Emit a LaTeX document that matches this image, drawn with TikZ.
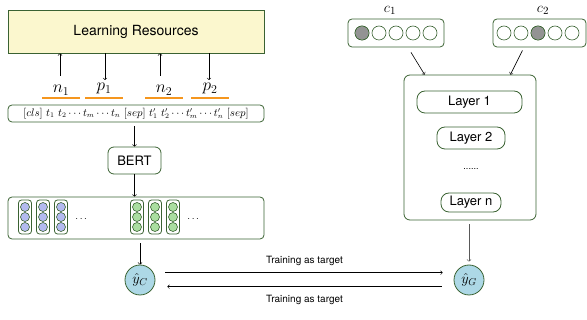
\documentclass[tikz,border=0pt]{standalone}
\usepackage{fontspec}
\setsansfont{TeX Gyre Heros}
\usepackage{amsmath}
\usetikzlibrary{arrows, positioning}
\definecolor{edgegreen}{RGB}{58,98,50}
\definecolor{resyellow}{RGB}{251,247,206}
\definecolor{dotblue}{RGB}{180,186,240}
\definecolor{dotgreen}{RGB}{170,222,160}
\definecolor{outblue}{RGB}{173,216,230}
\definecolor{underorange}{RGB}{245,150,30}
\tikzset{
	gbox/.style={draw=edgegreen, line width=0.8pt, rounded corners=4pt},
	layerbox/.style={draw=edgegreen, line width=0.8pt, rounded corners=8pt, font=\sffamily\fontsize{13}{15}\selectfont, inner sep=0pt},
	tokenlab/.style={anchor=base, minimum width=37pt, inner sep=0pt, font=\fontsize{17.5}{20}\selectfont},
	uline/.style={underorange, line width=1.6pt},
	emb/.style={circle, draw=edgegreen, line width=0.6pt, minimum size=9pt, inner sep=0pt},
	onehot/.style={circle, draw=edgegreen, line width=0.6pt, minimum size=14pt, inner sep=0pt},
	outnode/.style={circle, draw=edgegreen, line width=0.8pt, fill=outblue, minimum size=30pt, inner sep=0pt, font=\fontsize{14}{16}\selectfont},
	arr/.style={->, line width=0.6pt},
}
\begin{document}
\begin{tikzpicture}[x=1pt, y=-1pt]
	\useasboundingbox (0,0) rectangle (587,320);
	% left branch
	\node[
	draw=edgegreen, line width=0.8pt, fill=resyellow,
	minimum width=256pt, minimum height=43pt,
	font=\sffamily\fontsize{14}{16}\selectfont,
	] (res) at (136,31.5) {Learning Resources};
	\node[tokenlab] (n1) at (61,92.5) {$n_1$};
	\node[tokenlab] (p1) at (104,91) {$p_1$};
	\node[tokenlab] (n2) at (164,92.5) {$n_2$};
	\node[tokenlab] (p2) at (210,91) {$p_2$};
	\foreach \lab in {n1,p1,n2,p2}
		\draw[uline] (\lab.west |- 0,98) -- (\lab.east |- 0,98);
	\draw[arr] (60,76) -- (60,0 |- res.south);
	\draw[arr] (105,0 |- res.south) -- (105,80);
	\draw[arr] (160,76) -- (160,0 |- res.south);
	\draw[arr] (209,0 |- res.south) -- (209,80);
	\node[
	gbox, minimum width=256pt, minimum height=17pt, inner sep=0pt,
	font=\fontsize{10.5}{12}\selectfont,
	] (tokens) at (136,113.5)
	{$[cls]\ t_1\ t_2\cdots t_m\cdots t_n\ [sep]\ t'_1\ t'_2\cdots t'_m\cdots t'_n\ [sep]$};
	\node[
	gbox, rounded corners=6pt, minimum width=53pt, minimum height=27pt,
	font=\sffamily\fontsize{13}{15}\selectfont,
	] (bert) at (134.5,160.5) {BERT};
	\draw[arr] ([yshift=-4pt]tokens.south -| bert.center) -- (bert.north);
	\node[gbox, minimum width=256pt, minimum height=42pt] (embs) at (136,218) {};
	\draw[arr] (bert.south) -- (bert.center |- embs.north);
	\foreach \x/\col [count=\i] in {25/dotblue,43/dotblue,61/dotblue,137/dotgreen,155/dotgreen,173/dotgreen}{
		\node[draw=edgegreen, line width=0.8pt, rounded corners=3pt, minimum width=13pt, minimum height=34pt] (col\i) at (\x,217) {};
		\foreach \y [count=\j] in {207,217,227}
			\node[emb, fill=\col] (e\i\j) at (\x,\y) {};
	}
	\node (dotsa) at (82,219) {$\cdots$};
	\node (dotsb) at (194,219) {$\cdots$};
	\node[outnode] (yc) at (140,280) {$\hat{y}_C$};
	\draw[arr] ([yshift=-4pt]embs.south -| yc.center) -- (yc.north);
	% right branch
	\node[gbox, minimum width=96pt, minimum height=28pt] (c1box) at (396,33) {};
	\node[anchor=base, inner sep=0pt, font=\fontsize{15}{17}\selectfont] (c1) at (390,12.5) {$c_1$};
	\foreach \i in {1,...,5}
		\node[onehot] (a\i) at (345+17*\i,33) {};
	\fill[gray!85] (a1) circle (6.5pt);
	\draw[edgegreen, line width=0.6pt] (a1) circle (7pt);
	\node[gbox, minimum width=93pt, minimum height=28pt] (c2box) at (539.5,33) {};
	\node[anchor=base, inner sep=0pt, font=\fontsize{15}{17}\selectfont] (c2) at (543,12.5) {$c_2$};
	\foreach \i in {1,...,5}
		\node[onehot] (b\i) at (487+17*\i,33) {};
	\fill[gray!85] (b3) circle (6.5pt);
	\draw[edgegreen, line width=0.6pt] (b3) circle (7pt);
	\node[gbox, rounded corners=6pt, minimum width=132pt, minimum height=145pt] (model) at (470,147.5) {};
	\draw[arr] ([xshift=15pt,yshift=-5pt]c1box.south) -- ([xshift=21pt]model.north west);
	\draw[arr] ([xshift=-17pt,yshift=-3pt]c2box.south) -- ([xshift=-26pt]model.north east);
	\node[layerbox, minimum width=105pt, minimum height=22pt] (l1) at (469.5,102) {Layer 1};
	\node[layerbox, minimum width=68pt, minimum height=22pt] (l2) at (471,138) {Layer 2};
	\node[font=\sffamily\fontsize{9}{10}\selectfont] (ldots) at (471,169) {......};
	\node[layerbox, minimum width=60pt, minimum height=19pt] (ln) at (471,202.5) {Layer n};
	\node[outnode] (yg) at (469,280) {$\hat{y}_G$};
	\draw[arr, gray!70!black] ([yshift=-4pt]model.south -| yg.center) -- ([yshift=3pt]yg.north);
	% training arrows
	\draw[arr, shorten <=10pt, shorten >=11pt] ([yshift=7.3pt]yc.east) -- ([yshift=7.3pt]yg.west)
		node[midway, above=3pt, font=\sffamily\fontsize{10}{12}\selectfont] (ta) {Training as target};
	\draw[arr, shorten <=12pt, shorten >=12pt] ([yshift=-6.7pt]yg.west) -- ([yshift=-6.7pt]yc.east)
		node[midway, below=5pt, font=\sffamily\fontsize{10}{12}\selectfont] (tb) {Training as target};
\end{tikzpicture}
\end{document}
